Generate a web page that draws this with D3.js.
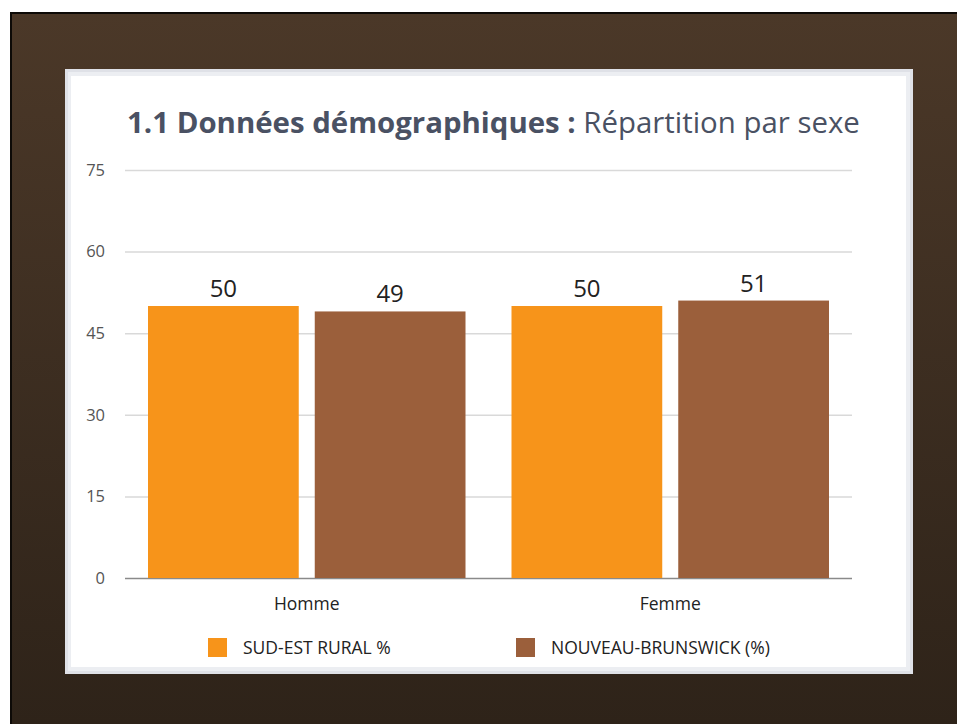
<!DOCTYPE html>
<html>
<head>
<meta charset="utf-8">
<script src="https://cdn.jsdelivr.net/npm/d3@7"></script>
<style>
  html, body { margin: 0; padding: 0; background: #ffffff; }
  svg { display: block; }
</style>
</head>
<body>
<svg id="chart" width="957" height="724"></svg>
<script>
// Répartition par sexe
const categories = ["Homme", "Femme"];
const seriesNames = ["SUD-EST RURAL %", "NOUVEAU-BRUNSWICK (%)"];
const sudEstRural = [50, 50];
const nouveauBrunswick = [49, 51];
const yTicks = [0, 15, 30, 45, 60, 75];
const seriesColors = ["#f7941a", "#9b5f3b"];

const seriesValues = [sudEstRural, nouveauBrunswick];
const rows = categories.map((c, i) => ({
  category: c,
  values: seriesNames.map((s, j) => ({ series: s, index: j, value: seriesValues[j][i] }))
}));

const svg = d3.select("#chart");

// Slide backdrop
const defs = svg.append("defs");
const grad = defs.append("linearGradient")
  .attr("id", "bg").attr("x1", 0).attr("y1", 0).attr("x2", 0).attr("y2", 1);
grad.append("stop").attr("offset", "0%").attr("stop-color", "#4b3828");
grad.append("stop").attr("offset", "100%").attr("stop-color", "#2e2319");

svg.append("rect").attr("x", 10).attr("y", 12).attr("width", 947).attr("height", 712).attr("fill", "#0d0a07");
svg.append("rect").attr("x", 12).attr("y", 14).attr("width", 945).attr("height", 710).attr("fill", "url(#bg)");

// Chart card
svg.append("rect").attr("x", 65).attr("y", 69).attr("width", 848).attr("height", 605).attr("fill", "#dfe1e7");
svg.append("rect").attr("x", 68).attr("y", 72).attr("width", 842).attr("height", 599).attr("fill", "#eceef2");
svg.append("rect").attr("x", 71).attr("y", 76).attr("width", 835).attr("height", 591).attr("fill", "#ffffff");

// Title
const title = svg.append("text")
  .attr("x", 127).attr("y", 133)
  .attr("font-family", "'Open Sans', sans-serif")
  .attr("font-size", 29.4)
  .attr("fill", "#4a5163");
title.append("tspan").attr("font-weight", "bold").text("1.1 Données démographiques : ");
title.append("tspan").attr("font-weight", "normal").text("Répartition par sexe");

// Scales
const y = d3.scaleLinear().domain([0, 75]).range([578, 170]);
const x0 = d3.scaleBand().domain(categories).range([125, 852]).padding(0);
const x1 = d3.scaleBand().domain(seriesNames)
  .range([23, x0.bandwidth() - 23]).paddingInner(0.096).paddingOuter(0);

// Gridlines and value axis
const yAxis = d3.axisLeft(y).tickValues(yTicks).tickSize(0).tickPadding(20);
const gy = svg.append("g").attr("transform", "translate(125,0)").call(yAxis);
gy.select(".domain").remove();
gy.selectAll(".tick text")
  .attr("font-family", "'Open Sans', sans-serif")
  .attr("font-size", 16.5)
  .attr("fill", "#555555");
gy.selectAll(".tick").append("line")
  .attr("x1", 0).attr("x2", 727)
  .attr("stroke", d => d === 0 ? "#8a8a8a" : "#d9d9d9")
  .attr("stroke-width", 1.5);

// Bars
const groups = svg.append("g").selectAll("g").data(rows).join("g")
  .attr("transform", d => `translate(${x0(d.category)},0)`);

groups.selectAll("rect").data(d => d.values).join("rect")
  .attr("x", d => x1(d.series))
  .attr("y", d => y(d.value))
  .attr("width", x1.bandwidth())
  .attr("height", d => y(0) - y(d.value))
  .attr("fill", d => seriesColors[d.index]);

groups.selectAll("text.value").data(d => d.values).join("text")
  .attr("class", "value")
  .attr("x", d => x1(d.series) + x1.bandwidth() / 2)
  .attr("y", d => y(d.value) - 9)
  .attr("text-anchor", "middle")
  .attr("font-family", "'Open Sans', sans-serif")
  .attr("font-size", 24)
  .attr("fill", "#222222")
  .text(d => d.value);

// Category axis
const xAxis = d3.axisBottom(x0).tickSize(0).tickPadding(20);
const gx = svg.append("g").attr("transform", "translate(0,578)").call(xAxis);
gx.select(".domain").remove();
gx.selectAll(".tick text")
  .attr("font-family", "'Open Sans', sans-serif")
  .attr("font-size", 17.5)
  .attr("fill", "#222222");

// Legend
const legendX = [208, 516];
const legend = svg.append("g").selectAll("g").data(seriesNames).join("g")
  .attr("transform", (d, i) => `translate(${legendX[i]},638)`);
legend.append("rect").attr("width", 19).attr("height", 19)
  .attr("fill", (d, i) => seriesColors[i]);
legend.append("text").attr("x", 35).attr("y", 16)
  .attr("font-family", "'Open Sans', sans-serif")
  .attr("font-size", 17.5)
  .attr("fill", "#222222")
  .text(d => d);
</script>
</body>
</html>
